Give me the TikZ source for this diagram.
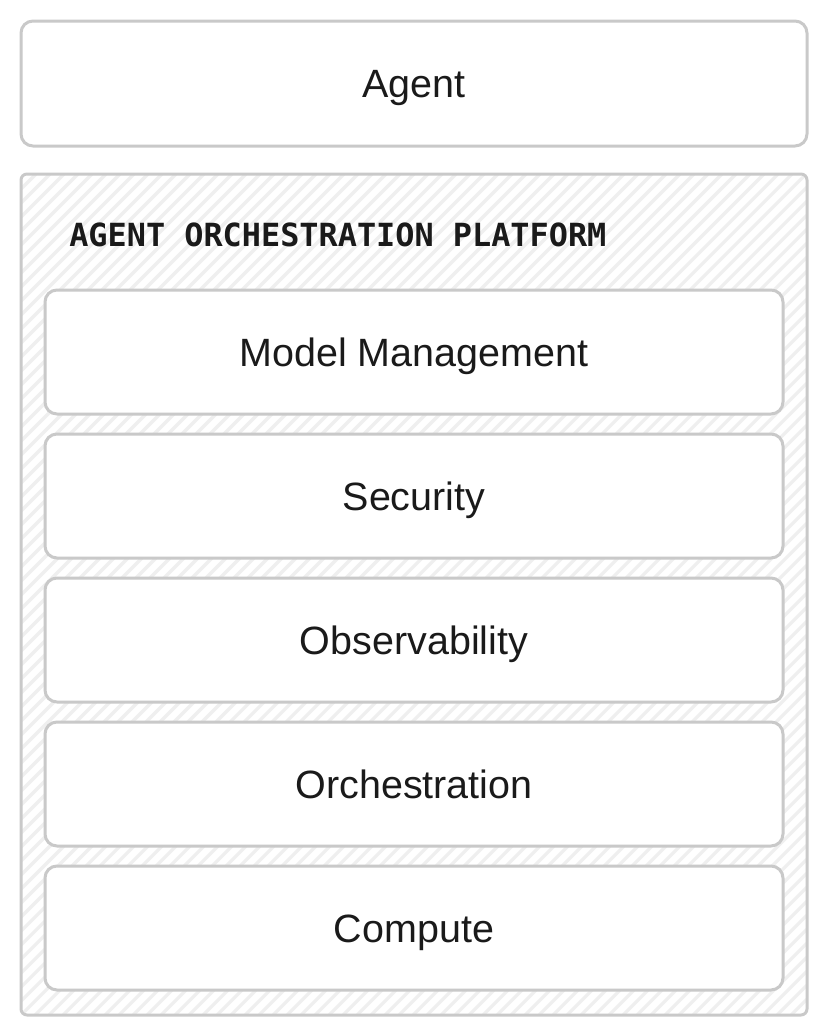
\documentclass[tikz,border=0pt]{standalone}
\usepackage{fontspec}
\setmainfont{Liberation Sans}
\newfontfamily\titlefont{DejaVu Sans Mono}
\usetikzlibrary{positioning}

\definecolor{edgegray}{HTML}{C9C9C9}
\definecolor{hatchgray}{HTML}{EFEFEF}
\definecolor{inkblack}{HTML}{1A1A1A}

\tikzset{
  layerbox/.style={draw=edgegray, line width=2.25pt, fill=white, rounded corners=9pt,
    minimum width=553.5pt, minimum height=93pt, inner sep=0pt,
    text height=21.2pt, text depth=0pt,
    text=inkblack, font=\fontsize{29.6}{34}\selectfont},
  hatchline/.style={draw=hatchgray, line width=2.4pt},
}

\begin{document}
\begin{tikzpicture}[x=0.75pt, y=-0.75pt]
\useasboundingbox (0,0) rectangle (828,1036);
% top box
\node[layerbox, minimum width=589.5pt, minimum height=93.75pt] (agent) at (414,83.5) {Agent};
% platform frame with hatch
\node[draw=edgegray, line width=2.25pt, fill=white, rounded corners=4.5pt,
  minimum width=589.5pt, minimum height=630.75pt, inner sep=0pt,
  path picture={
    \foreach \k in {-62,...,58} {
      \draw[hatchline] ([xshift=\k*10.5pt]path picture bounding box.south west) -- ++(640pt,640pt);
    }
  }] (platform) at (414,594.5) {};
\node[anchor=base west, text=inkblack, font=\titlefont\bfseries\fontsize{23.9}{28}\selectfont,
  inner sep=0pt] (title) at (69,246) {AGENT ORCHESTRATION PLATFORM};
% layers
\node[layerbox] (model) at (414,352) {Model Management};
\node[layerbox] (security) at (414,496) {Security};
\node[layerbox] (observ) at (414,640) {Observability};
\node[layerbox] (orch) at (414,784) {Orchestration};
\node[layerbox] (compute) at (414,928) {Compute};
\end{tikzpicture}
\end{document}
